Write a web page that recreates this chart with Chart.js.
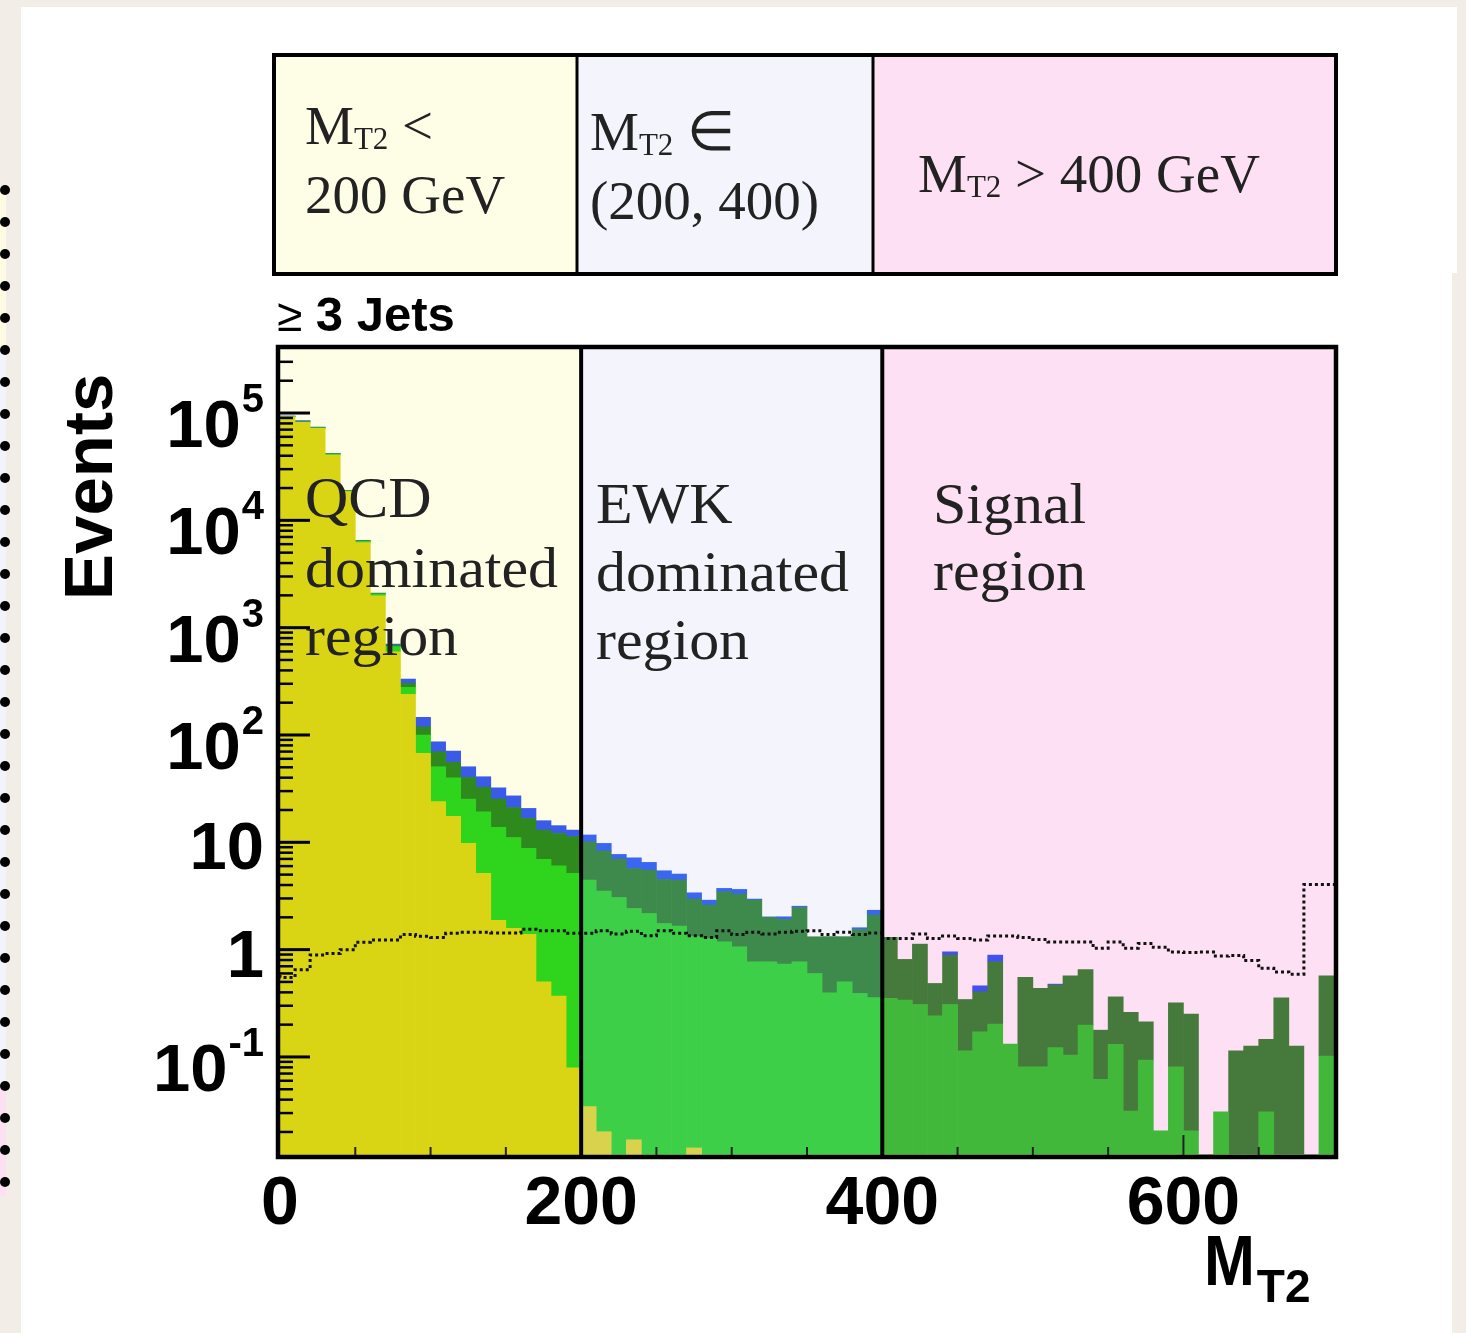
<!DOCTYPE html>
<html>
<head>
<meta charset="utf-8">
<title>MT2 regions</title>
<script src="https://cdn.jsdelivr.net/npm/chart.js@4.4.0/dist/chart.umd.min.js"></script>
<style>
  body { margin: 0; background: #f2eee7; }
  canvas { display: block; }
</style>
</head>
<body>
<canvas id="mt2Chart" width="1466" height="1333"></canvas>
<script>
// bin low edges of MT2 (GeV), 10 GeV bins
const binLow = [0, 10, 20, 30, 40, 50, 60, 70, 80, 90,
  100, 110, 120, 130, 140, 150, 160, 170, 180, 190,
  200, 210, 220, 230, 240, 250, 260, 270, 280, 290,
  300, 310, 320, 330, 340, 350, 360, 370, 380, 390,
  400, 410, 420, 430, 440, 450, 460, 470, 480, 490,
  500, 510, 520, 530, 540, 550, 560, 570, 580, 590,
  600, 610, 620, 630, 640, 650, 660, 670, 680, 690];

// stacked backgrounds (events per bin), bottom to top
const qcd = [92000, 82000, 72000, 40500, 18500, 6200, 1980, 596, 239, 67.4,
  23.9, 17.5, 9.77, 5.13, 1.88, 1.58, 1.39, 0.50, 0.369, 0.079,
  0.0345, 0.0201, 0, 0.0169, 0, 0, 0, 0.0142, 0, 0,
  0, 0, 0, 0, 0, 0, 0, 0, 0, 0,
  0, 0, 0, 0, 0, 0, 0, 0, 0, 0,
  0, 0, 0, 0, 0, 0, 0, 0, 0, 0,
  0, 0, 0, 0, 0, 0, 0, 0, 0, 0];
const wjets = [800, 700, 900, 1000, 300, 200, 80, 70, 39, 32.4,
  26.7, 22.4, 15.5, 14.1, 11.9, 9.5, 7.4, 6.43, 5.67, 5.05,
  4.42, 3.50, 3.06, 2.40, 2.17, 1.75, 1.66, 1.31, 1.27, 1.18,
  1.06, 0.769, 0.769, 0.733, 0.769, 0.598, 0.395, 0.501, 0.390, 0.357,
  0.351, 0.338, 0.308, 0.242, 0.308, 0.114, 0.171, 0.202, 0.132, 0.081,
  0.081, 0.122, 0.104, 0.198, 0.0617, 0.131, 0.0313, 0.0934, 0.0205, 0.081,
  0.0205, 0, 0.0308, 0, 0, 0.0308, 0, 0, 0, 0.102];
const ttbar = [400, 500, 400, 300, 100, 60, 25, 20, 25, 19.2,
  19.1, 15.7, 15.0, 13.3, 11.5, 10.0, 7.9, 6.07, 6.06, 6.17,
  5.65, 4.78, 3.91, 3.28, 3.34, 2.76, 2.79, 1.64, 1.33, 2.28,
  2.23, 2.12, 1.23, 1.18, 1.70, 0.72, 0.925, 0.82, 1.15, 1.74,
  0.949, 0.473, 0.817, 0.242, 0.581, 0.229, 0.233, 0.567, 0, 0.47,
  0.354, 0.345, 0.466, 0.455, 0.116, 0.232, 0.229, 0.119, 0, 0.238,
  0.23, 0, 0, 0.114, 0.126, 0.115, 0.356, 0.126, 0, 0.468];
const zinv = [800, 1800, 700, 200, 100, 40, 15, 17, 29, 27,
  16.7, 15.2, 10.3, 8.3, 6.9, 6.0, 4.0, 2.9, 2.2, 1.7,
  1.6, 1.47, 0.74, 1.47, 0.99, 0.92, 0.61, 0.42, 0.29, 0.26,
  0.35, 0.07, 0.02, 0.11, 0.07, 0, 0, 0, 0.06, 0.23,
  0, 0, 0, 0, 0.065, 0, 0.056, 0.12, 0, 0,
  0, 0.01, 0, 0, 0, 0, 0, 0, 0, 0,
  0, 0, 0, 0, 0, 0, 0, 0, 0, 0];
// signal (dotted step line, not stacked)
const signal = [0.58, 0.55, 0.65, 0.89, 0.92, 1.0, 1.17, 1.23, 1.23, 1.38,
  1.33, 1.30, 1.42, 1.45, 1.45, 1.43, 1.43, 1.55, 1.5, 1.5,
  1.42, 1.42, 1.5, 1.4, 1.48, 1.35, 1.5, 1.42, 1.35, 1.3,
  1.5, 1.38, 1.45, 1.4, 1.45, 1.48, 1.5, 1.38, 1.45, 1.38,
  1.43, 1.27, 1.27, 1.40, 1.27, 1.34, 1.27, 1.23, 1.34, 1.34,
  1.30, 1.24, 1.18, 1.18, 1.18, 1.03, 1.18, 1.03, 1.14, 1.05,
  0.95, 0.94, 0.95, 0.87, 0.88, 0.79, 0.67, 0.62, 0.59, 4.05];

const mt2Max = 700;
const regionEdges = [0, 200, 400, 700];
const xTickLabels = [0, 200, 400, 600];
const yDecades = [-1, 0, 1, 2, 3, 4, 5];

const SERIF = '"Liberation Serif", "Times New Roman", serif';
const SANS = '"Liberation Sans", Arial, sans-serif';

// colours per region (the coloured bands tint the histogram)
const regionFill = ['#fefde6', '#f4f4fd', '#fde0f3'];
const palette = {
  qcd:   ['#d9d515', '#d8d24c', '#d8c84c'],
  wjets: ['#2fd41c', '#3ecf48', '#42b83a'],
  ttbar: ['#2f8a1e', '#3e8a4c', '#467a3c'],
  zinv:  ['#3a5ae8', '#3b66f2', '#4250ee']
};

function regionOf(v) {
  return v < regionEdges[1] ? 0 : (v < regionEdges[2] ? 1 : 2);
}
function colours(key) {
  return binLow.map(v => palette[key][regionOf(v)]);
}

function drawRuns(ctx, x, y, runs) {
  runs.forEach(([t, font, dy]) => {
    ctx.font = font;
    ctx.fillText(t, x, y + dy);
    x += ctx.measureText(t).width;
  });
}
function wideText(ctx, t, x, y, sx) {
  ctx.save();
  ctx.translate(x, y);
  ctx.scale(sx, 1);
  ctx.fillText(t, 0, 0);
  ctx.restore();
  return ctx.measureText(t).width * sx;
}

const pagePlugin = {
  id: 'page',
  beforeDraw(chart) {
    const ctx = chart.ctx;
    const W = chart.width, H = chart.height;
    ctx.save();
    // slide background and white panel
    ctx.fillStyle = '#f2eee7';
    ctx.fillRect(0, 0, W, H);
    ctx.fillStyle = '#ffffff';
    ctx.fillRect(21, 7, 1436, 266);
    ctx.fillRect(21, 273, 1431, H - 273);
    // tinted sliver + bullet dots on the left edge
    ctx.fillStyle = '#fdfbe2'; ctx.fillRect(0, 186, 6, 160);
    ctx.fillStyle = '#f3f3fb'; ctx.fillRect(0, 346, 6, 740);
    ctx.fillStyle = '#fde0f2'; ctx.fillRect(0, 1086, 6, 110);
    ctx.fillStyle = '#000';
    for (let y = 1182; y >= 185; y -= 32) {
      ctx.beginPath();
      ctx.arc(5, y, 5, 0, 2 * Math.PI);
      ctx.fill();
    }

    // header box with the three MT2 ranges
    const hx = [274, 577, 873, 1336], hTop = 55, hBot = 274;
    for (let i = 0; i < 3; i++) {
      ctx.fillStyle = regionFill[i];
      ctx.fillRect(hx[i], hTop, hx[i + 1] - hx[i], hBot - hTop);
    }
    ctx.strokeStyle = '#000';
    ctx.lineWidth = 4;
    ctx.strokeRect(hx[0], hTop, hx[3] - hx[0], hBot - hTop);
    ctx.lineWidth = 3;
    [hx[1], hx[2]].forEach(x => {
      ctx.beginPath(); ctx.moveTo(x, hTop); ctx.lineTo(x, hBot); ctx.stroke();
    });
    ctx.fillStyle = '#222';
    ctx.textAlign = 'left';
    ctx.textBaseline = 'alphabetic';
    const big = '55px ' + SERIF, sub = '31px ' + SERIF;
    drawRuns(ctx, 305, 144, [['M', big, 0], ['T2', sub, 5], [' <', big, 0]]);
    drawRuns(ctx, 305, 213, [['200 GeV', big, 0]]);
    drawRuns(ctx, 590, 150, [['M', big, 0], ['T2', sub, 5], [' \u2208', big, 0]]);
    drawRuns(ctx, 590, 219, [['(200, 400)', big, 0]]);
    drawRuns(ctx, 918, 192, [['M', big, 0], ['T2', sub, 5], [' > 400 GeV', big, 0]]);

    // coloured bands inside the plot
    const {top, bottom} = chart.chartArea;
    const xs = chart.scales.x2;
    for (let i = 0; i < 3; i++) {
      const x0 = xs.getPixelForValue(regionEdges[i]);
      const x1 = xs.getPixelForValue(regionEdges[i + 1]);
      ctx.fillStyle = regionFill[i];
      ctx.fillRect(x0, top, x1 - x0, bottom - top);
    }
    ctx.restore();
  },
  afterDatasetsDraw(chart) {
    const ctx = chart.ctx;
    const {left, right, top, bottom} = chart.chartArea;
    const xs = chart.scales.x2, ys = chart.scales.y;
    ctx.save();

    // region texts
    ctx.fillStyle = '#222';
    ctx.font = '56px ' + SERIF;
    ctx.textAlign = 'left';
    [['QCD', 305, 517], ['dominated', 305, 587], ['region', 305, 655],
     ['EWK', 596, 523], ['dominated', 596, 591], ['region', 596, 659],
     ['Signal', 933, 523], ['region', 933, 590]].forEach(([t, x, y]) => wideText(ctx, t, x, y, 1.07));

    // y ticks (inside, ROOT style)
    ctx.strokeStyle = '#000';
    for (let d = -2; d <= 5; d++) {
      for (let m = 1; m <= 9; m++) {
        const v = m * Math.pow(10, d);
        if (v < ys.min || v > ys.max) continue;
        const py = ys.getPixelForValue(v);
        ctx.lineWidth = m === 1 ? 3 : 2.5;
        ctx.beginPath();
        ctx.moveTo(left, py);
        ctx.lineTo(left + (m === 1 ? 30 : 13), py);
        ctx.stroke();
      }
    }
    // x ticks
    ctx.strokeStyle = '#222';
    ctx.lineWidth = 2;
    for (let v = 50; v < mt2Max; v += 50) {
      const px = xs.getPixelForValue(v);
      ctx.beginPath();
      ctx.moveTo(px, bottom);
      ctx.lineTo(px, bottom - (v % 200 === 0 ? 20 : 8));
      ctx.stroke();
    }

    // region dividers and frame
    ctx.strokeStyle = '#000';
    ctx.lineWidth = 4;
    [regionEdges[1], regionEdges[2]].forEach(v => {
      const px = xs.getPixelForValue(v);
      ctx.beginPath(); ctx.moveTo(px, top); ctx.lineTo(px, bottom); ctx.stroke();
    });
    ctx.lineWidth = 4.5;
    ctx.strokeRect(left - 2, top - 2, right - left + 4, bottom - top + 4);

    // y labels
    ctx.fillStyle = '#000';
    ctx.textAlign = 'right';
    const rEdge = 264;
    yDecades.forEach(e => {
      const py = ys.getPixelForValue(Math.pow(10, e));
      if (e === 0 || e === 1) {
        ctx.font = 'bold 67px ' + SANS;
        ctx.fillText(e === 0 ? '1' : '10', rEdge, py + 27);
      } else {
        ctx.font = 'bold 40px ' + SANS;
        const s = String(e);
        const sw = ctx.measureText(s).width;
        ctx.fillText(s, rEdge, py - 1);
        ctx.font = 'bold 67px ' + SANS;
        ctx.fillText('10', rEdge - sw - 1, py + 34);
      }
    });
    // x labels
    ctx.textAlign = 'center';
    ctx.font = 'bold 68px ' + SANS;
    xTickLabels.forEach(v => ctx.fillText(String(v), xs.getPixelForValue(v), 1224));

    // axis titles
    ctx.textAlign = 'left';
    ctx.font = 'bold 71px ' + SANS;
    const mw = wideText(ctx, 'M', 1204, 1285, 0.86);
    ctx.font = 'bold 46px ' + SANS;
    ctx.fillText('T2', 1204 + mw + 2, 1302);
    ctx.save();
    ctx.translate(112, 600);
    ctx.rotate(-Math.PI / 2);
    ctx.font = 'bold 69px ' + SANS;
    ctx.fillText('Events', 0, 0);
    ctx.restore();
    drawRuns(ctx, 277, 331, [['\u2265', '46px ' + SANS, 0], [' 3 Jets', 'bold 49px ' + SANS, 0]]);

    ctx.restore();
  }
};

const ctx = document.getElementById('mt2Chart').getContext('2d');
const barCommon = { stack: 'bkg', order: 1, borderWidth: 0, barPercentage: 1, categoryPercentage: 1, grouped: false };

new Chart(ctx, {
  type: 'bar',
  data: {
    labels: binLow,
    datasets: [
      Object.assign({ label: 'QCD', data: qcd, backgroundColor: colours('qcd') }, barCommon),
      Object.assign({ label: 'W+jets', data: wjets, backgroundColor: colours('wjets') }, barCommon),
      Object.assign({ label: 'Top', data: ttbar, backgroundColor: colours('ttbar') }, barCommon),
      Object.assign({ label: 'Z(nunu)', data: zinv, backgroundColor: colours('zinv') }, barCommon),
      {
        type: 'line',
        label: 'Signal',
        xAxisID: 'x2',
        stack: 'sig',
        order: 0,
        data: signal.map((v, i) => ({ x: binLow[i], y: v })).concat([{ x: mt2Max, y: signal[signal.length - 1] }]),
        stepped: 'after',
        borderColor: '#111',
        borderWidth: 3,
        borderDash: [3, 3],
        pointRadius: 0,
        fill: false
      }
    ]
  },
  options: {
    responsive: false,
    animation: false,
    devicePixelRatio: 1,
    datasets: {
      bar: { barPercentage: 1, categoryPercentage: 1, grouped: false, borderWidth: 0 }
    },
    layout: { padding: { left: 280, top: 349, right: 132, bottom: 178 } },
    plugins: { legend: { display: false }, tooltip: { enabled: false } },
    scales: {
      x: { type: 'category', display: false, stacked: true, offset: true },
      x2: { type: 'linear', display: false, min: 0, max: mt2Max, offset: false },
      y: { type: 'logarithmic', display: false, stacked: true, min: 0.0122, max: 395000 }
    }
  },
  plugins: [pagePlugin]
});
</script>
</body>
</html>
